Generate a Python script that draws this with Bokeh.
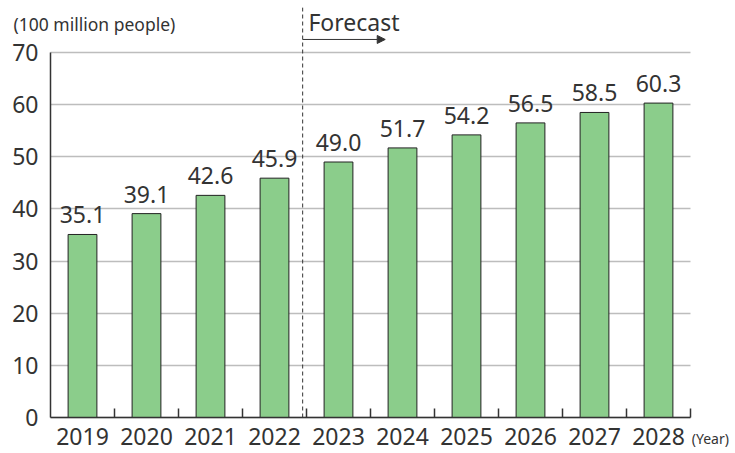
from bokeh.plotting import figure
from bokeh.models import (ColumnDataSource, Range1d, FixedTicker,
                          LabelSet, Arrow, NormalHead)
from bokeh.core.properties import value
from bokeh.embed import file_html
from bokeh.resources import INLINE

years = ["2019", "2020", "2021", "2022", "2023", "2024", "2025", "2026", "2027", "2028"]
users = [35.1, 39.1, 42.6, 45.9, 49.0, 51.7, 54.2, 56.5, 58.5, 60.3]
value_labels = [f"{v:.1f}" for v in users]
y_ticks = [0, 10, 20, 30, 40, 50, 60, 70]
forecast_start = "2023"
y_title = "(100 million people)"
x_title = "(Year)"
forecast_text = "Forecast"

FONT = "Noto Sans"
TXT = "#333333"

W, H = 735, 453
PX_PER_CAT = 64.0
PX_PER_UNIT = 365.0 / 70.0
LEFT_PX, BOTTOM_PX = 50, 36

n = len(years)
centers = [i + 0.5 for i in range(n)]
bounds_x = list(range(1, n + 1))
top = max(y_ticks)

x0 = -LEFT_PX / PX_PER_CAT
x1 = x0 + W / PX_PER_CAT
y0 = -BOTTOM_PX / PX_PER_UNIT
y1 = y0 + H / PX_PER_UNIT

src = ColumnDataSource(dict(x=centers, users=users, labels=value_labels))

p = figure(width=W, height=H,
           x_range=Range1d(x0, x1), y_range=Range1d(y0, y1),
           output_backend="svg", toolbar_location=None,
           min_border_left=0, min_border_right=0,
           min_border_top=0, min_border_bottom=0)
p.outline_line_color = None

# grid
p.xgrid.grid_line_color = None
p.ygrid.ticker = FixedTicker(ticks=y_ticks)
p.ygrid.grid_line_color = "#bdbdbd"
p.ygrid.grid_line_width = 1.5
if hasattr(p.ygrid[0], "cross_bounds"):
    p.ygrid.cross_bounds = (0, n)

# y axis
p.yaxis.fixed_location = 0
p.yaxis.bounds = (0, top)
p.yaxis.ticker = FixedTicker(ticks=y_ticks)
p.yaxis.axis_line_color = "#333333"
p.yaxis.axis_line_width = 1.5
p.yaxis.major_tick_line_color = None
p.yaxis.minor_tick_line_color = None
p.yaxis.major_label_text_font = FONT
p.yaxis.major_label_text_font_size = "23px"
p.yaxis.major_label_text_color = TXT
p.yaxis.major_label_standoff = 6

# x axis
p.xaxis.fixed_location = 0
p.xaxis.bounds = (0, n)
p.xaxis.ticker = FixedTicker(ticks=centers, minor_ticks=bounds_x)
p.xaxis.major_label_overrides = {c: y for c, y in zip(centers, years)}
p.xaxis.axis_line_color = "#333333"
p.xaxis.axis_line_width = 1.5
p.xaxis.major_tick_line_color = None
p.xaxis.minor_tick_line_color = "#333333"
p.xaxis.minor_tick_line_width = 1.5
p.xaxis.minor_tick_in = 9
p.xaxis.minor_tick_out = 0
p.xaxis.major_label_text_font = FONT
p.xaxis.major_label_text_font_size = "23px"
p.xaxis.major_label_text_color = TXT
p.xaxis.major_label_standoff = 4

# bars
p.vbar(x="x", top="users", width=0.45, source=src,
       fill_color="#8bcd8b", line_color="#222222", line_width=1)

# value labels
p.add_layout(LabelSet(x="x", y="users", text="labels", source=src,
                      y_offset=11, text_align="center", text_baseline="alphabetic",
                      text_font=value(FONT), text_font_size=value("23px"),
                      text_color=TXT))

# forecast divider
fx = years.index(forecast_start) - 0.06
p.segment(x0=[fx], y0=[0], x1=[fx], y1=[78.6], line_color="#333333",
          line_width=1, line_dash="4 3")
p.add_layout(Arrow(end=NormalHead(size=8, fill_color="#333333", line_color="#333333"),
                   x_start=fx, y_start=72.5, x_end=fx + 1.29, y_end=72.5,
                   line_color="#333333", line_width=1))

# texts
texts = ColumnDataSource(dict(
    x=[fx + 0.09, -0.578],
    y=[74.2, 74.2],
    t=[forecast_text, y_title],
    s=["23px", "17.5px"],
))
p.add_layout(LabelSet(x="x", y="y", text="t", source=texts, text_font_size="s",
                      text_font=value(FONT), text_color=TXT,
                      text_baseline="alphabetic"))

year_src = ColumnDataSource(dict(x=[n + 0.02], y=[-5.0], t=[x_title]))
p.add_layout(LabelSet(x="x", y="y", text="t", source=year_src,
                      text_font=value(FONT), text_font_size=value("14px"),
                      text_color=TXT, text_baseline="alphabetic"))

open("out.html", "w").write(file_html(p, INLINE))
